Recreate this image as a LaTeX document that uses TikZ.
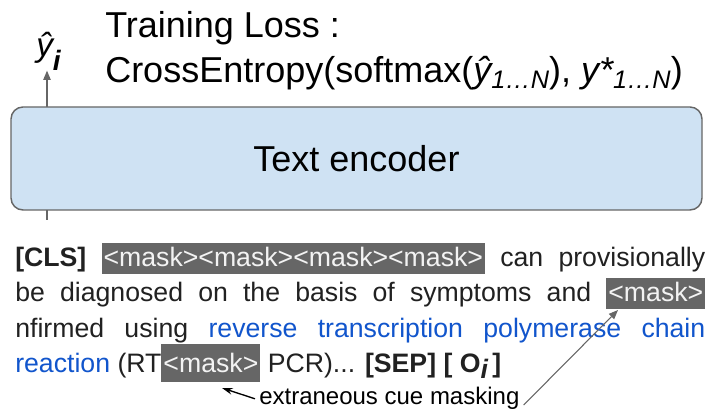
\documentclass[tikz,border=0pt]{standalone}
\usepackage{fontspec}
\setmainfont{Liberation Sans}
\usepackage{tikz}
\usetikzlibrary{arrows.meta}

\definecolor{encfill}{HTML}{CFE2F3}
\definecolor{encdraw}{HTML}{666666}
\definecolor{maskgray}{HTML}{666666}
\definecolor{maskfg}{HTML}{F3F3F3}
\definecolor{termblue}{HTML}{1155CC}
\definecolor{inktext}{HTML}{212121}

\setlength{\fboxsep}{1.5pt}
\newcommand{\maskbox}[1]{\colorbox{maskgray}{\rule[-4pt]{0pt}{20.5pt}\textcolor{maskfg}{#1}}}
\newcommand{\tallmask}[1]{\colorbox{maskgray}{\rule[-5.5pt]{0pt}{26pt}\textcolor{maskfg}{#1}}}
\newcommand{\lowsub}[1]{\raisebox{-4pt}{\fontsize{19}{20}\selectfont\itshape #1}}

\begin{document}
\begin{tikzpicture}[x=0.75pt,y=-0.75pt,
    encoder/.style={draw=encdraw,line width=1.1pt,fill=encfill,rounded corners=9pt,
      minimum width=518.25pt,minimum height=77.25pt,inner sep=0pt,
      font=\fontsize{27}{30}\selectfont},
    titleline/.style={anchor=base west,inner sep=0pt,font=\fontsize{27}{30}\selectfont},
    bodyline/.style={anchor=base west,inner sep=0pt,text=inktext,font=\fontsize{20}{24}\selectfont},
    cuenote/.style={anchor=base west,inner sep=3pt,font=\fontsize{18}{20}\selectfont},
    grayarrow/.style={draw=encdraw,line width=1.1pt,-{Triangle[length=7pt,width=5.5pt]}}]
  \useasboundingbox (0,0) rectangle (708,409);

  % output of the encoder and the loss
  \node[inner sep=0pt,anchor=base west,font=\fontsize{25}{27}\selectfont] (yhat) at (36,57)
    {\itshape ŷ\raisebox{-10pt}{\fontsize{21}{22}\selectfont\bfseries\itshape i}};
  \coordinate (encin) at (47,220);
  \draw[grayarrow] (encin) -- (encin |- yhat.south);
  \node[titleline] (lossname) at (105,38) {Training Loss :};
  \node[titleline] (lossterm) at (105,83)
    {CrossEntropy(softmax({\itshape ŷ}\lowsub{1…N}), {\itshape y*}\lowsub{1…N})};

  \node[encoder] (enc) at (356.5,158.5) {Text encoder};

  % masked input text
  \node[bodyline] (lineone) at (15,267)
    {\makebox[517.5pt][s]{\textbf{[CLS]} \maskbox{<mask><mask><mask><mask>} can provisionally}};
  \node[bodyline] (linetwo) at (15,302)
    {\makebox[517.5pt][s]{be diagnosed on the basis of symptoms and \maskbox{<mask>}}};
  \node[bodyline] (linethree) at (15,338)
    {\makebox[517.5pt][s]{nfirmed using \textcolor{termblue}{reverse} \textcolor{termblue}{transcription} \textcolor{termblue}{polymerase} \textcolor{termblue}{chain}}};
  \node[bodyline] (linefour) at (15,373)
    {\textcolor{termblue}{reaction} (RT\tallmask{<mask>} PCR)... \textbf{[SEP] [ O\raisebox{-4.5pt}{\itshape i}\,]}};

  % annotation
  \coordinate (rtmask) at (222,388);
  \coordinate (andmask) at (618,310);
  \node[cuenote] (cue) at (255,405) {extraneous cue masking};
  \draw[line width=1pt,-{Stealth[length=8pt,width=5pt]}] (cue.west) -- (rtmask);
  \draw[grayarrow,line width=0.8pt] (cue.base east) -- (andmask);
\end{tikzpicture}
\end{document}
